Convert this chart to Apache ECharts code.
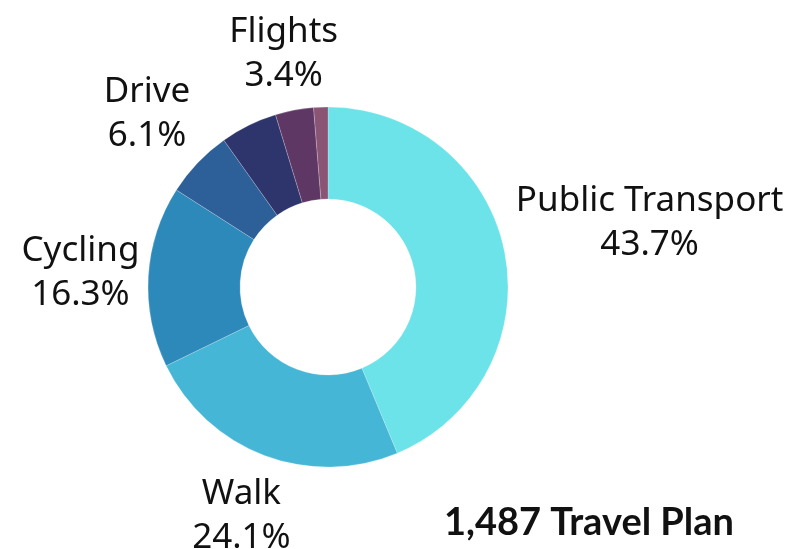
<!DOCTYPE html>
<html>
<head>
<meta charset="utf-8">
<script src="https://cdn.jsdelivr.net/npm/echarts@6/dist/echarts.min.js"></script>
<style>
  html, body { margin: 0; padding: 0; background: #fff; }
  #chart { width: 794px; height: 549px; }
</style>
</head>
<body>
<div id="chart"></div>
<script>
// travel plan counts (total 1,487)
const categories = ['Public Transport', 'Walk', 'Cycling', 'Drive', 'Other', 'Flights', 'Ferry'];
const counts = [650, 358, 242, 91, 76, 51, 19];
const showLabel = [true, true, true, true, false, true, false];
const colors = ['#6be3e8', '#45b6d6', '#2e89bb', '#2d5f98', '#2e356c', '#5e3764', '#8a5575'];
const titleText = '1,487 Travel Plan';

const cx = 328, cy = 287, rOuter = 180, rInner = 88;
const labelGap = 188; // nearest edge of label box from centre

const total = counts.reduce((a, b) => a + b, 0);
// mid angle of every slice (degrees, clockwise from top)
const midAngles = [];
let cum = 0;
counts.forEach(v => {
  midAngles.push(90 - 360 * (cum + v / 2) / total);
  cum += v;
});

const chart = echarts.init(document.getElementById('chart'));

chart.setOption({
  animation: false,
  title: {
    text: titleText,
    right: 55,
    bottom: 2,
    textStyle: { fontFamily: 'Lato', fontWeight: 'bold', fontSize: 38, color: '#111' }
  },
  series: [{
    type: 'pie',
    center: [cx, cy],
    radius: [rInner, rOuter],
    startAngle: 90,
    clockwise: true,
    avoidLabelOverlap: false,
    itemStyle: { borderColor: 'rgba(255,255,255,0.35)', borderWidth: 0.6 },
    label: {
      position: 'outside',
      fontFamily: 'Noto Sans',
      fontSize: 35,
      lineHeight: 44,
      color: '#111',
      formatter: p => p.name + '\n' + (p.value / total * 100).toFixed(1) + '%'
    },
    labelLine: { show: false },
    labelLayout: function (params) {
      const a = midAngles[params.dataIndex] * Math.PI / 180;
      const hw = params.labelRect.width / 2, hh = params.labelRect.height / 2;
      const ux = Math.cos(a), uy = -Math.sin(a);
      let d = 0;
      for (; d < 600; d += 1) {
        const lx = d * ux, ly = d * uy;
        const nx = Math.max(Math.abs(lx) - hw, 0), ny = Math.max(Math.abs(ly) - hh, 0);
        if (Math.sqrt(nx * nx + ny * ny) >= labelGap) break;
      }
      return { x: cx + d * ux, y: cy + d * uy, align: 'center', verticalAlign: 'middle' };
    },
    data: categories.map((name, i) => ({
      name: name,
      value: counts[i],
      itemStyle: { color: colors[i] },
      label: { show: showLabel[i] }
    }))
  }]
});
</script>
</body>
</html>
